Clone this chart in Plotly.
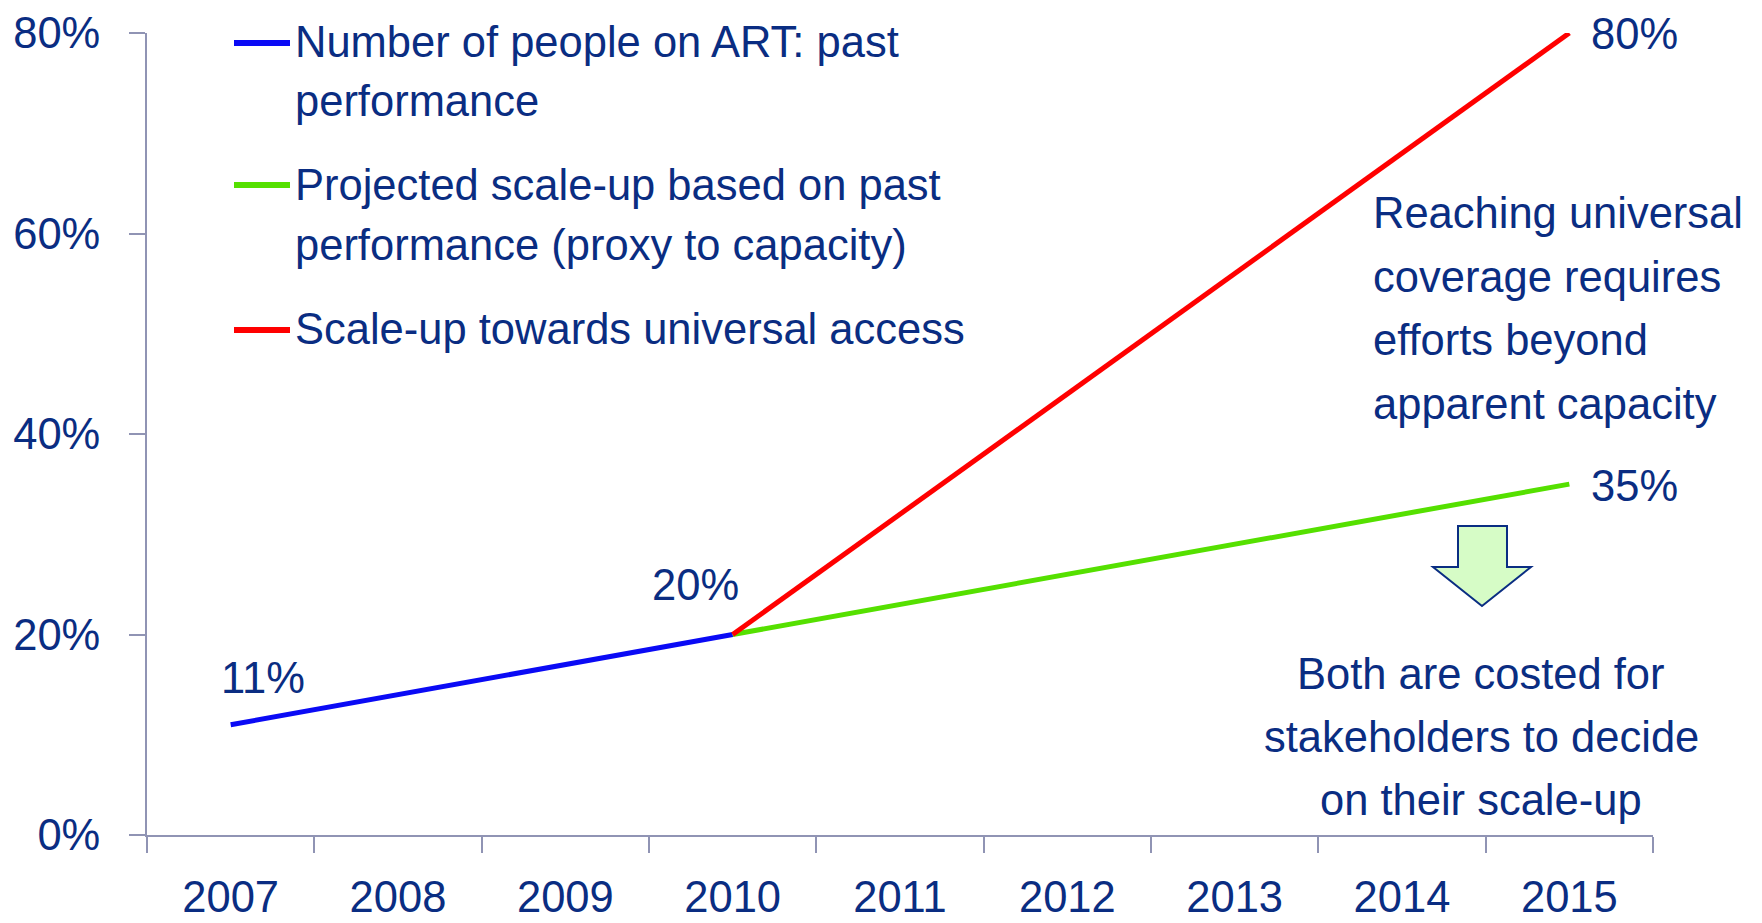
import plotly.graph_objects as go

# ---------------- data ----------------
years = ["2007", "2008", "2009", "2010", "2011", "2012", "2013", "2014", "2015"]

past_years = ["2007", "2010"]
past_values = [0.11, 0.20]

projected_years = ["2010", "2015"]
projected_values = [0.20, 0.35]

universal_years = ["2010", "2015"]
universal_values = [0.20, 0.80]

y_ticks = [0, 0.2, 0.4, 0.6, 0.8]

legend_labels = [
    ["Number of people on ART: past", "performance"],
    ["Projected scale-up based on past", "performance (proxy to capacity)"],
    ["Scale-up towards universal access"],
]
note_top = ["Reaching universal", "coverage requires", "efforts beyond", "apparent capacity"]
note_bottom = ["Both are costed for", "stakeholders to decide", "on their scale-up"]

# ---------------- style ----------------
W, H = 1762, 923
ML, MR, MT, MB = 147, 109, 33, 88
FONT = "Liberation Sans, Arial, sans-serif"
NAVY = "#0a2d82"
AXIS = "#9094b4"
BLUE = "#0a0af5"
GREEN = "#55e000"
RED = "#ff0000"
FS = 43.5

PW = W - ML - MR
PH = H - MT - MB


def px(x):
    return (x - ML) / PW


def py(y):
    return (H - MB - y) / PH


fig = go.Figure()
fig.add_trace(go.Scatter(x=past_years, y=past_values, mode="lines",
                         line=dict(color=BLUE, width=5), name=" ".join(legend_labels[0])))
fig.add_trace(go.Scatter(x=projected_years, y=projected_values, mode="lines",
                         line=dict(color=GREEN, width=5), name=" ".join(legend_labels[1])))
fig.add_trace(go.Scatter(x=universal_years, y=universal_values, mode="lines",
                         line=dict(color=RED, width=5), name=" ".join(legend_labels[2])))

annotations = []
shapes = []


def pct(v):
    return f"{round(v * 100)}%"


def label(year, value, xs, ys, anchor):
    annotations.append(dict(x=years.index(year), y=value, text=pct(value),
                            xref="x", yref="y", showarrow=False, xshift=xs, yshift=ys,
                            xanchor=anchor, yanchor="middle"))


label(past_years[0], past_values[0], 32, 47, "center")
label(past_years[-1], past_values[-1], -37, 50, "center")
label(universal_years[-1], universal_values[-1], 20, -1, "left")
label(projected_years[-1], projected_values[-1], 20, -2, "left")

# custom legend
legend_key_y = [43, 185, 330]
legend_line_mid = [[42, 101], [185, 245], [329]]
colors = [BLUE, GREEN, RED]
for i, lines in enumerate(legend_labels):
    shapes.append(dict(type="line", xref="paper", yref="paper",
                       x0=px(234), x1=px(290), y0=py(legend_key_y[i]), y1=py(legend_key_y[i]),
                       line=dict(color=colors[i], width=6)))
    for j, t in enumerate(lines):
        annotations.append(dict(x=px(293), y=py(legend_line_mid[i][j]), text=t,
                                xref="paper", yref="paper", showarrow=False,
                                xanchor="left", yanchor="middle"))

# right notes
for j, t in enumerate(note_top):
    annotations.append(dict(x=px(1371), y=py([213, 277, 340, 404][j]), text=t,
                            xref="paper", yref="paper", showarrow=False,
                            xanchor="left", yanchor="middle"))
for j, t in enumerate(note_bottom):
    annotations.append(dict(x=px(1481), y=py([674, 737, 800][j]), text=t,
                            xref="paper", yref="paper", showarrow=False,
                            xanchor="center", yanchor="middle"))

# down arrow
pts = [(1458, 526), (1507, 526), (1507, 567), (1531, 567), (1482, 606), (1433, 567), (1458, 567)]
path = "M " + " L ".join(f"{px(a):.5f},{py(b):.5f}" for a, b in pts) + " Z"
shapes.append(dict(type="path", xref="paper", yref="paper", path=path,
                   fillcolor="#d6fcc6", line=dict(color=NAVY, width=2)))

fig.update_layout(
    width=W, height=H,
    margin=dict(l=ML, r=MR, t=MT, b=MB, pad=0, autoexpand=False),
    paper_bgcolor="white", plot_bgcolor="white",
    showlegend=False,
    font=dict(family=FONT, size=FS, color=NAVY),
    annotations=annotations,
    shapes=shapes,
    xaxis=dict(type="category", categoryorder="array", categoryarray=years,
               range=[-0.5, len(years) - 0.5], tickson="boundaries", automargin=False,
               ticks="outside", ticklen=16, tickwidth=2, tickcolor=AXIS,
               showline=True, linecolor=AXIS, linewidth=2, showgrid=False, zeroline=False,
               ticklabelstandoff=23, tickfont=dict(size=FS, color=NAVY, family=FONT)),
    yaxis=dict(range=[0, 0.8], tickvals=y_ticks, tickformat=".0%", automargin=False,
               ticks="outside", ticklen=16, tickwidth=2, tickcolor=AXIS,
               showline=True, linecolor=AXIS, linewidth=2, showgrid=False, zeroline=False,
               ticklabelstandoff=20, tickfont=dict(size=FS, color=NAVY, family=FONT)),
)

fig.write_html("out.html")
